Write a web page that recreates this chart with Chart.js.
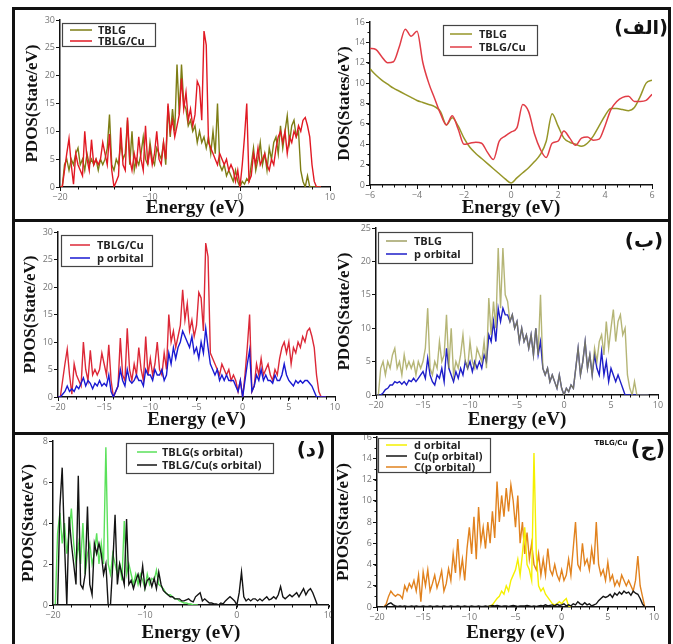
<!DOCTYPE html>
<html>
<head>
<meta charset="utf-8">
<script src="https://cdn.jsdelivr.net/npm/chart.js@4.4.0/dist/chart.umd.min.js"></script>
<style>
  body { margin: 0; background: #fff; }
  #page { position: relative; width: 673px; height: 644px; overflow: hidden; background: #fff; }
  canvas { position: absolute; }
  .bar { position: absolute; background: #111; z-index: 5; }
  .tag { position: absolute; font-family: "DejaVu Sans"; font-weight: bold; color: #111; transform: translate(-50%, -50%); white-space: nowrap; z-index: 6; }
</style>
</head>
<body>
<div id="page">
  <div class="bar" style="left:12px;top:7px;width:659px;height:3px"></div>
  <div class="bar" style="left:12px;top:7px;width:3px;height:640px"></div>
  <div class="bar" style="left:668px;top:7px;width:3px;height:640px"></div>
  <div class="bar" style="left:12px;top:219px;width:659px;height:3px"></div>
  <div class="bar" style="left:12px;top:432px;width:659px;height:3px"></div>
  <div class="bar" style="left:331px;top:432px;width:3px;height:212px"></div>
  <div class="tag" style="left:641px;top:27px;font-size:19px">(الف)</div>
  <div class="tag" style="left:644px;top:240px;font-size:20px">(ب)</div>
  <div class="tag" style="left:311px;top:449px;font-size:20px">(د)</div>
  <div class="tag" style="left:648px;top:448px;font-size:21px">(ج)</div>
  <div class="tag" style="left:611px;top:443px;font-size:7px">TBLG/Cu</div>
</div>
<script>
// energy grid (eV), 0.25 eV spacing
const ENERGY = [
  -20, -19.75, -19.5, -19.25, -19, -18.75, -18.5, -18.25, -18, -17.75, -17.5, -17.25,
  -17, -16.75, -16.5, -16.25, -16, -15.75, -15.5, -15.25, -15, -14.75, -14.5, -14.25,
  -14, -13.75, -13.5, -13.25, -13, -12.75, -12.5, -12.25, -12, -11.75, -11.5, -11.25,
  -11, -10.75, -10.5, -10.25, -10, -9.75, -9.5, -9.25, -9, -8.75, -8.5, -8.25,
  -8, -7.75, -7.5, -7.25, -7, -6.75, -6.5, -6.25, -6, -5.75, -5.5, -5.25,
  -5, -4.75, -4.5, -4.25, -4, -3.75, -3.5, -3.25, -3, -2.75, -2.5, -2.25,
  -2, -1.75, -1.5, -1.25, -1, -0.75, -0.5, -0.25, 0, 0.25, 0.5, 0.75,
  1, 1.25, 1.5, 1.75, 2, 2.25, 2.5, 2.75, 3, 3.25, 3.5, 3.75,
  4, 4.25, 4.5, 4.75, 5, 5.25, 5.5, 5.75, 6, 6.25, 6.5, 6.75,
  7, 7.25, 7.5, 7.75, 8, 8.25, 8.5, 8.75, 9
];
const DOS_ENERGY = [
  -6, -5.75, -5.5, -5.25, -5, -4.75, -4.5, -4.25, -4, -3.75, -3.5, -3.25,
  -3, -2.75, -2.5, -2.25, -2, -1.75, -1.5, -1.25, -1, -0.75, -0.5, -0.25,
  0, 0.25, 0.5, 0.75, 1, 1.25, 1.5, 1.75, 2, 2.25, 2.5, 2.75,
  3, 3.25, 3.5, 3.75, 4, 4.25, 4.5, 4.75, 5, 5.25, 5.5, 5.75, 6
];

// total PDOS
const TBLG_TOTAL = [
  0, 0, 4, 5, 3, 5, 4, 6, 7, 4, 5, 3, 6, 4, 5, 4,
  5, 3, 5, 4, 5, 7, 13, 4, 3, 5, 4, 8, 5, 6, 12, 4,
  10, 3, 5, 4, 6, 9, 5, 4, 8, 5, 4, 7, 6, 5, 8, 4,
  14.5, 9, 14, 10, 22, 13, 22, 15, 14, 11, 12, 10, 11, 8, 10, 8,
  9, 7, 9, 6, 10, 6, 15, 4, 3, 4, 2, 3, 2, 1, 3, 1,
  0, 1, 0.5, 1.5, 1, 4, 7, 3, 5, 8, 4, 6, 3, 7, 5, 8,
  9, 6, 11, 7, 10, 12.8, 8, 11, 12, 9, 10, 3, 1, 0, 2, 0,
  0, 0, 0, 0, 0
];
const TBLGCU_TOTAL = [
  0, 0, 3, 6, 8.7, 4, 0.5, 6, 4, 3, 2, 10, 5, 3, 8.5, 4,
  5, 4, 5, 8, 6, 4, 9.5, 3, 0, 1, 2, 10.7, 4, 3, 12.5, 5,
  3, 6, 4, 9, 5, 3, 11, 4, 7, 4, 6, 10, 5, 4, 8, 5,
  15, 10, 12, 9, 11, 13, 19.5, 14, 17, 12, 14, 11, 13, 19, 18, 12,
  28, 25.5, 8, 7, 6, 5, 4, 6, 5, 4, 5, 3, 4, 3, 1, 3,
  0, 4, 9, 15, 1, 2, 6, 4, 7, 4, 5, 6, 4, 3, 5, 4,
  7, 9, 10, 8, 10, 6, 9, 8, 10, 9, 11, 10, 12, 12.5, 11, 9,
  4, 1, 0, 0, 0
];
// p orbital
const TBLGCU_P = [
  0, 0, 0.5, 1, 2, 1, 1.5, 1, 2, 1.5, 2.5, 3.5, 2, 3, 2.5, 1.5,
  2.5, 2, 3, 2, 2.5, 2, 4, 1, 0, 1, 2, 5, 3, 2, 5, 3,
  2.5, 3, 4, 3, 3, 2, 5, 4, 4, 3, 5, 4, 4, 5, 3, 4,
  8, 6, 9, 7, 9, 10, 12, 11, 10, 9, 11, 8, 9, 7, 10, 8,
  12.5, 9, 6, 5, 4, 5, 3, 4, 3, 4, 3, 3, 3, 2, 1, 3,
  0, 3, 6, 8.5, 1, 2, 4, 3, 5, 3, 4, 3, 3, 2.5, 4, 3,
  3, 4, 6, 4, 3, 2.5, 2, 3, 2.5, 3, 2.5, 3, 3, 2.5, 2, 1,
  0, 0, 0, 0, 0
];
const TBLG_P = [
  0, 0, 0, 0.3, 0.8, 1, 1.5, 1.5, 2, 1.8, 2, 1.6, 2, 1.5, 2.2, 2,
  2.5, 2, 2.5, 3, 3.5, 2.5, 5.5, 3, 2, 1.5, 3, 2.5, 4, 2, 7, 4,
  3, 2, 3.5, 2.5, 4, 3, 5, 4, 5, 3.5, 5, 4, 5, 4, 6, 5,
  9, 8, 11, 8, 13, 11, 13, 12, 12, 11, 12, 10, 11, 8, 10, 8,
  9, 7, 9, 6, 10, 6, 8, 4, 3, 4, 2, 3, 2, 1, 3, 1,
  0, 1, 0.5, 1.5, 1, 4, 7, 3, 5, 8, 4, 6, 3, 6, 4, 3,
  6.5, 3, 5, 2, 4, 3, 2, 3, 2, 1, 0, 0, 0, 0, 0, 0,
  0, 0, 0, 0, 0
];
// s orbital
const TBLG_S = [
  0, 0, 3.5, 4.5, 3, 4, 2.5, 3.5, 4.7, 3, 2, 3, 2, 4, 1.5, 2.5,
  3, 2, 2.5, 3.5, 2, 3, 2, 7.7, 2, 1.5, 2.5, 2, 1.5, 2, 1.2, 4.1,
  1.5, 2, 1.5, 1, 1.5, 1, 1.5, 1.2, 0.8, 1.5, 1, 1.3, 1.2, 1.7, 1, 0.9,
  0.8, 0.6, 0.5, 0.5, 0.4, 0.3, 0.3, 0.2, 0.15, 0.1, 0.1, 0.05, 0.05, 0, 0, 0
];
const TBLGCU_S = [
  0, 0, 0, 4.8, 6.7, 3, 0, 4.3, 3, 2, 1, 6.3, 1, 0.8, 1.5, 4.8,
  1, 0.5, 3, 2.5, 3, 2.5, 1.5, 2, 0, 0, 2, 4.4, 1, 2, 1.5, 1,
  4.2, 1, 1.2, 0.8, 1.2, 1.5, 1, 1.9, 0.8, 1.2, 1.3, 0.9, 1.3, 0.8, 1.6, 1,
  0.7, 0.6, 0.5, 0.4, 0.4, 0.3, 0.3, 0.3, 0.2, 0.2, 0.25, 0.3, 0.2, 0.15, 0.4, 0.5,
  0.6, 0.2, 0.3, 0.2, 0.1, 0.1, 0.05, 0.05, 0, 0.1, 0.05, 0.2, 0.3, 0.4, 0.3, 0.2,
  0, 0.6, 1.6, 0.4, 0.2, 0.3, 0.2, 0.3, 0.3, 0.2, 0.3, 0.2, 0.3, 0.4, 0.25, 0.3,
  0.4, 0.3, 0.5, 0.9, 0.4, 0.3, 0.4, 0.5, 0.4, 0.5, 0.6, 0.4, 0.6, 0.8, 0.5, 0.7,
  0.8, 0.6, 0.3, 0, 0
];
// TBLG/Cu orbitals, C(p) and Cu(p) start at -19.25 eV, d starts at -8 eV
const C_P = [
  0, 0.3, 1, 1.5, 1.2, 1, 1.2, 1.1, 0.8, 2, 1.5, 2.2, 1.8,
  2.5, 1.5, 3, 0.5, 3.3, 2, 3.5, 1.5, 2.2, 3, 1.8, 2.5, 3.4, 1.5, 2.2, 3.6,
  2.5, 5, 3.2, 6.4, 3, 4.5, 2.5, 5.5, 7.5, 5, 8.5, 4.5, 9.4, 6, 7.5, 5.5,
  8, 6, 9, 6.5, 11.8, 8, 10.5, 8.5, 11.2, 9, 11.5, 10, 7.5, 10.5, 6, 8,
  5, 7, 4.5, 6, 4, 3.5, 5, 3, 4.5, 3, 5.5, 3.5, 3, 4, 3, 2.5,
  3.5, 2.5, 3, 4.5, 3, 5.5, 8, 4, 3.5, 6, 4, 4.5, 3.5, 5.5, 4, 8,
  4, 3, 3.5, 2.5, 4.2, 2.5, 3, 2, 2.5, 2, 3, 2.5, 2, 2.5, 2, 1.5,
  2.5, 4.8, 2, 1, 0
];
const D_ORB = [
  0, 0.1, 0.2, 0.5, 0.8, 1, 1.5, 1.2, 2, 1.5, 2.5, 3, 3.5, 4.5, 3, 5,
  7.5, 4, 3.5, 2.5, 14.5, 5, 2, 1.5, 1.8, 1.2, 0.9, 0.6, 0.3, 0.2, 0.3, 0.5,
  0.3, 0.6, 0.8, 0.1, 0
];
const CU_P = [
  0, 0.1, 0.3, 0.4, 0.2, 0.1, 0.05, 0.1, 0.05, 0.1, 0.05, 0.05, 0.1,
  0.05, 0.1, 0.05, 0.05, 0.1, 0.05, 0.05, 0.1, 0.05, 0.05, 0.1, 0.05, 0.05, 0.1, 0.05, 0.05,
  0.1, 0.05, 0.05, 0.1, 0.05, 0.05, 0.1, 0.05, 0.05, 0.1, 0.05, 0.05, 0.1, 0.05, 0.05, 0.1,
  0.05, 0.1, 0.15, 0.1, 0.15, 0.1, 0.05, 0.1, 0.1, 0.05, 0.1, 0.15, 0.1, 0.05, 0.1, 0.1,
  0.1, 0.15, 0.1, 0.05, 0.1, 0.05, 0.1, 0.15, 0.1, 0.2, 0.1, 0.15, 0.2, 0.1, 0.25, 0.15,
  0.2, 0.3, 0.1, 0.2, 0.1, 0.3, 0.2, 0.5, 0.3, 0.2, 0.4, 0.2, 0.3, 0.1, 0.2, 0.3,
  0.6, 0.8, 1, 0.9, 1, 1.2, 0.9, 1.3, 1.1, 1.4, 1.2, 1.5, 1.3, 1.4, 1.1, 1.5,
  1.3, 1.2, 0.8, 0.3, 0
];
// total DOS near the Fermi level
const DOS_TBLG = [
  11.4, 10.8, 10.3, 9.9, 9.5, 9.2, 8.9, 8.6, 8.3, 8.1, 7.9, 7.7,
  7.2, 5.9, 6.6, 5.8, 4.6, 3.7, 3.1, 2.6, 2.1, 1.6, 1.1, 0.6,
  0.2, 0.7, 1.2, 1.7, 2.3, 3.0, 4.3, 7.0, 5.8, 4.6, 4.2, 4.0,
  3.8, 4.1, 4.8, 5.8, 6.8, 7.5, 7.5, 7.4, 7.3, 7.6, 8.7, 10, 10.3
];
const DOS_TBLGCU = [
  13.4, 13.3, 12.6, 12.0, 12.1, 13.6, 15.3, 14.6, 15.1, 12.0, 10.0, 8.5,
  7.0, 5.9, 6.8, 5.5, 4.0, 4.1, 4.2, 4.1, 3.2, 2.5, 4.3, 4.8,
  5.2, 5.6, 7.9, 7.2, 5.0, 3.5, 2.7, 4.1, 4.3, 5.3, 4.6, 3.9,
  4.6, 4.7, 4.4, 4.5, 5.8, 7.4, 8.2, 8.6, 8.7, 8.2, 8.2, 8.3, 8.9
];

function pts(xs, ys, start) {
  const off = start === undefined ? 0 : xs.indexOf(start);
  return ys.map((y, i) => ({ x: xs[off + i], y: y }));
}

function line(label, data, color, order, extra) {
  return Object.assign({
    label: label, data: data, borderColor: color, borderWidth: 1.4,
    pointRadius: 0, tension: 0, fill: false, order: order
  }, extra || {});
}

// legend drawn as a framed box inside the plot
const boxLegend = {
  id: "boxLegend",
  afterDatasetsDraw(chart, args, o) {
    if (!o || !o.w) return;
    const ctx = chart.ctx;
    ctx.save();
    ctx.fillStyle = "#fff";
    ctx.fillRect(o.x, o.y, o.w, o.h);
    ctx.strokeStyle = "#444";
    ctx.lineWidth = 1.2;
    ctx.strokeRect(o.x + 0.5, o.y + 0.5, o.w, o.h);
    ctx.font = 'bold 11px "Open Sans"';
    ctx.textBaseline = "middle";
    chart.data.datasets.forEach((ds, i) => {
      const y = o.rows[i];
      ctx.strokeStyle = ds.legendColor || ds.borderColor;
      ctx.lineWidth = 1.5;
      ctx.beginPath();
      ctx.moveTo(o.x + o.lx, y);
      ctx.lineTo(o.x + o.lx + o.lw, y);
      ctx.stroke();
      ctx.fillStyle = "#222";
      ctx.fillText(ds.label, o.x + o.tx, y + 0.5);
    });
    ctx.restore();
  }
};

// small unlabeled ticks between the major ones
const minorTicks = {
  id: "minorTicks",
  afterDraw(chart, args, o) {
    if (!o || (!o.x && !o.y)) return;
    const ctx = chart.ctx, xs = chart.scales.x, ys = chart.scales.y, a = chart.chartArea;
    ctx.save();
    ctx.strokeStyle = "#111";
    ctx.lineWidth = 1;
    ctx.beginPath();
    if (o.x) {
      for (let v = xs.min; v <= xs.max + 1e-9; v += o.x) {
        const px = Math.round(xs.getPixelForValue(v)) + 0.5;
        ctx.moveTo(px, a.bottom);
        ctx.lineTo(px, a.bottom + 2.5);
      }
    }
    if (o.y) {
      for (let v = ys.min; v <= ys.max + 1e-9; v += o.y) {
        const py = Math.round(ys.getPixelForValue(v)) + 0.5;
        ctx.moveTo(a.left, py);
        ctx.lineTo(a.left - 2.5, py);
      }
    }
    ctx.stroke();
    ctx.restore();
  }
};

Chart.register(boxLegend, minorTicks);

const TICK_FONT = { family: "Open Sans", size: 9 };
const SERIF = "'Liberation Serif', 'DejaVu Serif', serif";

function makePanel(c) {
  const cv = document.createElement("canvas");
  cv.width = c.w;
  cv.height = c.h;
  cv.style.left = c.left + "px";
  cv.style.top = c.top + "px";
  document.getElementById("page").appendChild(cv);

  const minus = v => String(v).replace("-", "\u2212");
  new Chart(cv, {
    type: "line",
    data: { datasets: c.datasets },
    options: {
      responsive: false,
      animation: false,
      events: [],
      layout: { padding: { left: 0, top: c.T, right: c.w - c.R, bottom: 0 } },
      plugins: {
        legend: { display: false },
        tooltip: { enabled: false },
        boxLegend: c.legend,
        minorTicks: c.minor
      },
      scales: {
        x: {
          type: "linear", min: c.x[0], max: c.x[1],
          afterFit: s => { s.height = c.h - c.B; },
          ticks: { stepSize: c.x[2], autoSkip: false, maxRotation: 0, color: "#777", font: TICK_FONT, padding: 1, callback: minus },
          grid: { drawOnChartArea: false, drawTicks: true, tickLength: 4, color: "#111" },
          border: { display: true, color: "#111", width: 1.5 },
          title: { display: true, text: "Energy (eV)", color: "#111", padding: 0,
                   font: { family: SERIF, size: 19, weight: "bold", lineHeight: 1.2 } }
        },
        y: {
          min: c.y[0], max: c.y[1],
          afterFit: s => { s.width = c.L; },
          ticks: { stepSize: c.y[2], autoSkip: false, color: "#777", font: TICK_FONT, padding: 1 },
          grid: { drawOnChartArea: false, drawTicks: true, tickLength: 4, color: "#111" },
          border: { display: true, color: "#111", width: 1.5 },
          title: { display: true, text: c.yTitle, color: "#111", padding: { top: c.yPad, bottom: 0 },
                   font: { family: SERIF, size: 17, weight: "bold", lineHeight: 1.1 } }
        }
      }
    }
  });
}

// (الف) left: total PDOS
makePanel({
  left: 15, top: 10, w: 330, h: 209, L: 45, R: 315, T: 10, B: 177,
  x: [-20, 10, 10], y: [0, 30, 5], yTitle: "PDOS(State/eV)", yPad: 8,
  minor: { x: 2 },
  legend: { x: 47, y: 13, w: 93, h: 23, rows: [20, 31], lx: 8, lw: 22, tx: 36 },
  datasets: [
    line("TBLG", pts(ENERGY, TBLG_TOTAL), "rgb(125,125,20)", 2),
    line("TBLG/Cu", pts(ENERGY, TBLGCU_TOTAL), "rgb(225,25,35)", 1)
  ]
});

// (الف) right: DOS near Fermi level
makePanel({
  left: 335, top: 10, w: 333, h: 209, L: 35, R: 317, T: 12, B: 175,
  x: [-6, 6, 2], y: [0, 16, 2], yTitle: "DOS(States/eV)", yPad: 0,
  minor: { x: 0.5, y: 1 },
  legend: { x: 108, y: 15, w: 94, h: 30, rows: [24, 37], lx: 7, lw: 22, tx: 36 },
  datasets: [
    line("TBLG", pts(DOS_ENERGY, DOS_TBLG), "rgb(150,150,40)", 2, { borderWidth: 1.5, cubicInterpolationMode: "monotone" }),
    line("TBLG/Cu", pts(DOS_ENERGY, DOS_TBLGCU), "rgb(225,60,70)", 1, { borderWidth: 1.5, cubicInterpolationMode: "monotone" })
  ]
});

// (ب) left: TBLG/Cu total and p
makePanel({
  left: 15, top: 223, w: 330, h: 208, L: 43, R: 320, T: 9, B: 174,
  x: [-20, 10, 5], y: [0, 30, 5], yTitle: "PDOS(State/eV)", yPad: 6,
  minor: { x: 1 },
  legend: { x: 46, y: 12, w: 91, h: 31, rows: [22, 35], lx: 9, lw: 20, tx: 36 },
  datasets: [
    line("TBLG/Cu", pts(ENERGY, TBLGCU_TOTAL), "rgb(220,40,55)", 2),
    line("p orbital", pts(ENERGY, TBLGCU_P), "rgb(25,25,210)", 1)
  ]
});

// (ب) right: TBLG total and p
makePanel({
  left: 335, top: 218, w: 333, h: 213, L: 41, R: 323, T: 10, B: 177,
  x: [-20, 10, 5], y: [0, 25, 5], yTitle: "PDOS(State/eV)", yPad: 0,
  minor: { x: 1 },
  legend: { x: 43, y: 14, w: 94, h: 31, rows: [23, 36], lx: 8, lw: 21, tx: 36 },
  datasets: [
    line("TBLG", pts(ENERGY, TBLG_TOTAL), "rgba(150,150,60,0.7)", 1, { legendColor: "rgb(160,160,100)" }),
    line("p orbital", pts(ENERGY, TBLG_P), "rgb(30,30,200)", 2)
  ]
});

// (د): s orbitals
makePanel({
  left: 15, top: 430, w: 320, h: 214, L: 38, R: 318, T: 11, B: 175,
  x: [-20, 10, 10], y: [0, 8, 2], yTitle: "PDOS(State/eV)", yPad: 4,
  minor: { x: 2 },
  legend: { x: 111, y: 13, w: 147, h: 30, rows: [22, 35], lx: 11, lw: 20, tx: 36 },
  datasets: [
    line("TBLG(s orbital)", pts(ENERGY, TBLG_S), "rgb(90,225,90)", 2),
    line("TBLG/Cu(s orbital)", pts(ENERGY, TBLGCU_S), "rgb(20,20,20)", 1)
  ]
});

// (ج): TBLG/Cu d, Cu p, C p
makePanel({
  left: 334, top: 428, w: 334, h: 216, L: 43, R: 320, T: 9, B: 179,
  x: [-20, 10, 5], y: [0, 16, 2], yTitle: "PDOS(State/eV)", yPad: 0,
  minor: { x: 1, y: 1 },
  legend: { x: 44, y: 10, w: 112, h: 34, rows: [17, 28, 39], lx: 8, lw: 21, tx: 36 },
  datasets: [
    line("d orbital", pts(ENERGY, D_ORB, -8), "rgb(245,240,0)", 2),
    line("Cu(p orbital)", pts(ENERGY, CU_P, -19.25), "rgb(20,20,20)", 1),
    line("C(p orbital)", pts(ENERGY, C_P, -19.25), "rgb(225,130,30)", 3)
  ]
});
</script>
</body>
</html>
